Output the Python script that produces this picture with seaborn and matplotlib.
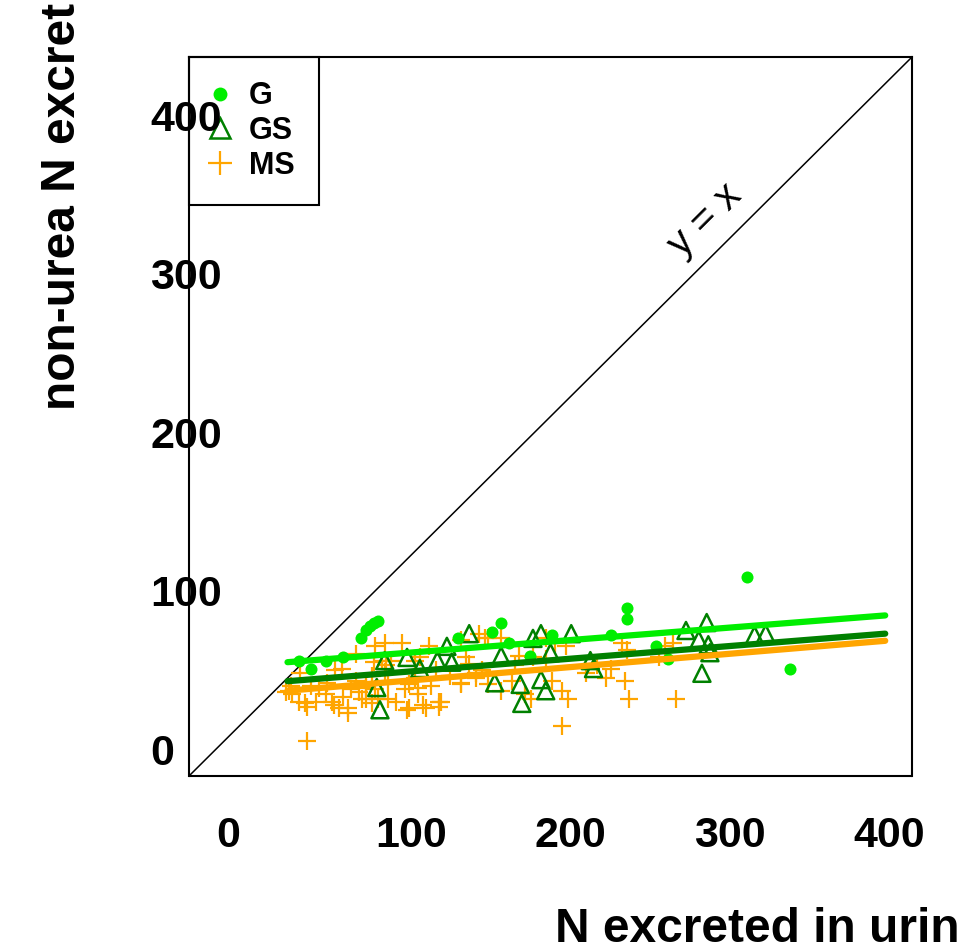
import numpy as np
import pandas as pd
import seaborn as sns
import matplotlib.pyplot as plt
from matplotlib.lines import Line2D

# points (x = N in urine, y = non-urea N)
G_x = [52, 60, 69, 80, 91, 94, 97, 99, 102, 152, 173, 179, 184, 197, 211, 248, 258, 258, 276, 284, 333, 360]
G_y = [56, 51, 56, 58, 70, 75, 78, 80, 81, 70, 74, 80, 67, 59, 72, 72, 89, 82, 65, 57, 109, 51]

GS_x = [101, 103, 106, 120, 128, 139, 145, 148, 159, 175, 179, 191, 192, 199, 204, 204, 207, 210, 223,
        235, 237, 295, 303, 305, 308, 309, 310, 338, 345]
GS_y = [39, 25, 56, 58, 51, 56, 65, 55, 73, 42, 59, 41, 29, 70, 73, 44, 37, 61, 73,
        56, 51, 75, 69, 48, 80, 66, 61, 72, 73]

MS_x = [57, 48, 52, 57, 63, 69, 74, 77, 83, 80, 65, 75, 79, 90, 94, 98, 102, 106, 117, 110, 106, 121, 121,
        113, 127, 128, 88, 94, 98, 100, 88, 53, 46, 56, 73, 83, 92, 94, 134, 104, 107, 99, 125, 154, 157,
        159, 100, 108, 119, 127, 135, 108, 120, 130, 140, 140, 154, 147, 163, 138, 125, 165, 171, 179, 190,
        199, 213, 220, 207, 171, 179, 186, 194, 198, 211, 217, 217, 163, 167, 207, 188, 232, 245, 257, 259,
        282, 287, 278, 289, 221, 248, 239, 255, 258, 132, 141, 154, 169, 44, 47, 60, 70, 85]
MS_y = [5, 35, 30, 27, 30, 35, 28, 26, 26, 33, 39, 50, 51, 36, 32, 29, 32, 67, 67, 56, 49, 41, 26,
        30, 35, 58, 43, 42, 46, 65, 60, 48, 37, 29, 30, 23, 32, 39, 65, 56, 53, 55, 56, 69, 58,
        54, 38, 43, 38, 39, 40, 32, 25, 28, 30, 27, 41, 46, 48, 50, 45, 73, 70, 70, 59,
        58, 67, 65, 70, 41, 37, 43, 35, 32, 43, 37, 15, 45, 50, 57, 53, 48, 45, 43, 32,
        65, 67, 58, 32, 32, 51, 53, 67, 63, 26, 30, 42, 70, 36, 40, 40, 42, 38]

# fitted lines
fit_x = [45, 420]
fit_G = [55, 84.5]
fit_GS = [43, 73]
fit_MS = [37, 68.5]

groups = ['G', 'GS', 'MS']
col_G = '#00EE00'
col_GS = '#008000'
col_MS = '#FFA500'

df = pd.concat([
    pd.DataFrame({'x': G_x, 'y': G_y, 'grp': 'G'}),
    pd.DataFrame({'x': GS_x, 'y': GS_y, 'grp': 'GS'}),
    pd.DataFrame({'x': MS_x, 'y': MS_y, 'grp': 'MS'}),
])

sns.set_style('white')
plt.rcParams['font.family'] = ['Liberation Sans', 'DejaVu Sans']
plt.rcParams['font.weight'] = 'bold'
plt.rcParams['text.color'] = 'black'
plt.rcParams['axes.labelcolor'] = 'black'

fig = plt.figure(figsize=(9.57, 9.46), dpi=100)
ax = fig.add_axes([189 / 957, 1 - 776 / 946, (912 - 189) / 957, (776 - 57) / 946])

sns.scatterplot(data=df[df.grp == 'MS'], x='x', y='y', marker='+', color=col_MS,
                s=170, linewidth=1.6, ax=ax, zorder=2)
sns.scatterplot(data=df[df.grp == 'GS'], x='x', y='y', marker='^', color=col_GS,
                s=150, linewidth=1.8, ax=ax, zorder=2)
ax.collections[-1].set_facecolor('none')
ax.collections[-1].set_edgecolor(col_GS)
sns.scatterplot(data=df[df.grp == 'G'], x='x', y='y', marker='o', color=col_G,
                s=75, linewidth=0, ax=ax, zorder=2)

sns.lineplot(x=fit_x, y=fit_G, color=col_G, linewidth=4.5, ax=ax, zorder=3)
sns.lineplot(x=fit_x, y=fit_GS, color=col_GS, linewidth=4.5, ax=ax, zorder=3)
sns.lineplot(x=fit_x, y=fit_MS, color=col_MS, linewidth=4.5, ax=ax, zorder=3)

ax.axline((0, 0), slope=1, color='black', linewidth=1.1, zorder=1)
ax.text(307, 334, 'y = x', rotation=45, rotation_mode='anchor', ha='center', va='center',
        fontsize=29, fontweight='normal', color='black')

ax.set_xlim(-16.8, 436.8)
ax.set_ylim(-16.8, 436.8)
ax.set_xticks([0, 100, 200, 300, 400])
ax.set_yticks([0, 100, 200, 300, 400])
ax.set_xlabel('')
ax.set_ylabel('')

for s in ax.spines.values():
    s.set_color('black')
    s.set_linewidth(1.5)
ax.spines['bottom'].set_position(('outward', 5))
ax.spines['bottom'].set_color('none')
ax.plot([0, 1], [0, 0], transform=ax.transAxes, color='black', linewidth=1.5, clip_on=False)

ax.tick_params(axis='x', direction='out', length=18, width=1.5, pad=6, labelsize=31, colors='black')
ax.tick_params(axis='y', direction='out', length=13, width=1.5, pad=15, labelsize=31, colors='black')
for lab in ax.get_xticklabels() + ax.get_yticklabels():
    lab.set_ha('left')
    lab.set_fontweight('bold')

handles = [
    Line2D([], [], linestyle='none', marker='o', markersize=10, color=col_G, markeredgewidth=0),
    Line2D([], [], linestyle='none', marker='^', markersize=15, markerfacecolor='none',
           markeredgecolor=col_GS, markeredgewidth=1.8),
    Line2D([], [], linestyle='none', marker='+', markersize=17, color=col_MS, markeredgewidth=1.6),
]
leg = ax.legend(handles, groups, loc='upper left', borderaxespad=0, fancybox=False, frameon=True,
                edgecolor='black', handlelength=0.46, handletextpad=0.69,
                borderpad=0.8, labelspacing=0.15, prop={'weight': 'bold', 'size': 22})
leg.get_frame().set_linewidth(1.5)
leg.get_frame().set_alpha(1)
# keep the y tick labels drawn over the legend box, as in the original
leg.set_zorder(0.3)
for t in leg.get_texts():
    t.set_color('black')

fig.text(555 / 957, 4 / 946, 'N excreted in urin', ha='left', va='baseline',
         fontsize=34.5, fontweight='bold', color='black')
fig.text(75 / 957, 1 - 410 / 946, 'non-urea N excret', rotation=90, rotation_mode='anchor',
         ha='left', va='baseline', fontsize=34.5, fontweight='bold', color='black')

fig.savefig('out.png', dpi=100, facecolor='white')
